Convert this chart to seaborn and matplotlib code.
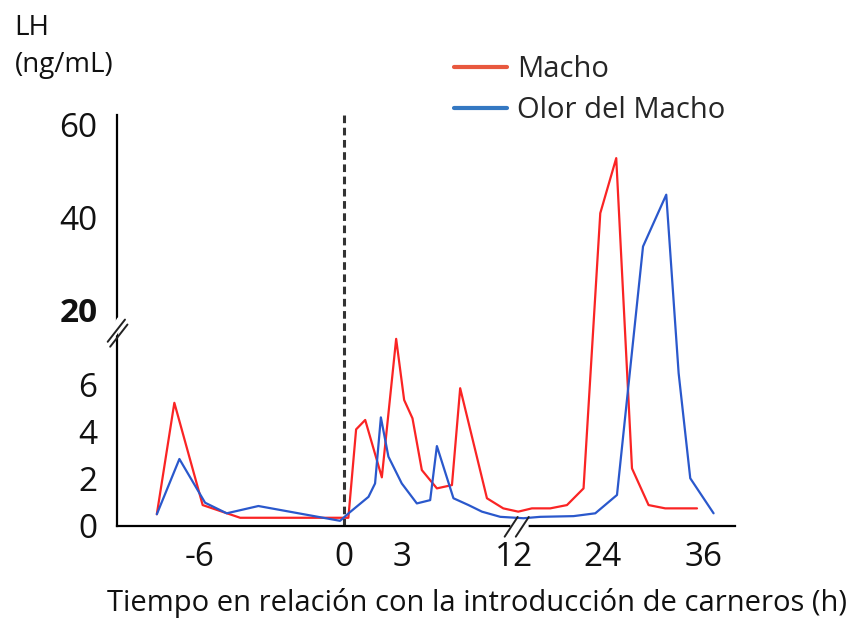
import numpy as np
import pandas as pd
import matplotlib
matplotlib.use("Agg")
import matplotlib.pyplot as plt
from matplotlib.lines import Line2D
import seaborn as sns

# data (hours relative to ram introduction, LH ng/mL)
macho_h = [-7.80, -7.07, -5.89, -4.33, 0.22, 0.62, 1.09, 1.95, 2.69, 3.16, 3.83, 4.58,
           5.79, 7.00, 7.66, 9.81, 11.12, 12.55, 14.41, 16.91, 19.19, 21.45, 23.73,
           25.66, 27.53, 29.50, 31.48, 35.25]
macho_lh = [0.50, 5.24, 0.89, 0.35, 0.35, 4.11, 4.51, 2.07, 7.96, 5.36, 4.58, 2.38,
            1.60, 1.74, 5.86, 1.18, 0.75, 0.61, 0.75, 0.75, 0.89, 1.60, 40.9,
            52.8, 2.45, 0.89, 0.75, 0.75]
olor_h = [-7.80, -6.86, -5.79, -4.89, -3.57, -0.17, 0.26, 1.26, 1.60, 1.90, 2.29, 2.98,
          4.18, 5.25, 5.79, 7.12, 8.33, 9.41, 10.88, 13.27, 15.55, 20.09, 23.05,
          25.75, 28.84, 31.60, 33.07, 34.45, 37.22]
olor_lh = [0.50, 2.85, 0.99, 0.54, 0.85, 0.22, 0.56, 1.24, 1.81, 4.62, 2.95, 1.81,
           0.96, 1.10, 3.40, 1.18, 0.89, 0.61, 0.39, 0.33, 0.39, 0.42, 0.54,
           1.32, 33.7, 44.9, 6.50, 2.03, 0.54]

x_ticks = [-6, 0, 3, 12, 24, 36]
y_ticks = [0, 2, 4, 6, 20, 40, 60]
series = ["Macho", "Olor del Macho"]

df = pd.concat([
    pd.DataFrame({"hora": macho_h, "LH": macho_lh, "grupo": series[0]}),
    pd.DataFrame({"hora": olor_h, "LH": olor_lh, "grupo": series[1]}),
])

# the original axes are drawn piecewise (broken axes), so use interpolated scales
hx = [-20, -6, 0, 3, 12, 24, 36, 50]
px = [-136, 200, 344, 402, 514, 602, 703, 820.8]
vy = [-10, 0, 8.5, 20, 60, 100]
py = [-235, 0, 199.75, 216, 401, 586]

sns.set_theme(style="white")
plt.rcParams["font.family"] = ["Open Sans", "DejaVu Sans"]

fig = plt.figure(figsize=(8.6, 6.23), dpi=100)
ax = fig.add_axes([0.136, 0.1557, 0.719, 0.66])
ax.set_xscale("function", functions=(lambda x: np.interp(x, hx, px),
                                     lambda p: np.interp(p, px, hx)))
ax.set_yscale("function", functions=(lambda v: np.interp(v, vy, py),
                                     lambda p: np.interp(p, py, vy)))

sns.lineplot(data=df, x="hora", y="LH", hue="grupo", palette=["#fa2424", "#2a58cc"],
             estimator=None, sort=False, linewidth=1.6, legend=False, ax=ax)

ax.axvline(0, color="#333333", lw=2.2, ls=(0, (2.5, 1.5)), zorder=1)

ax.set_xlim(-9.46, 39.8)
ax.set_ylim(0, 62.16)
ax.set_xticks(x_ticks)
ax.set_xticklabels([str(t) for t in x_ticks])
ax.set_yticks(y_ticks)
ax.set_yticklabels([str(t) for t in y_ticks])
for lab in ax.get_yticklabels():
    if lab.get_text() == "20":
        lab.set_fontweight("bold")
ax.tick_params(axis="both", length=0, labelsize=24, colors="#111111")
ax.tick_params(axis="x", pad=11)
ax.tick_params(axis="y", pad=14)
ax.set_xlabel("")
ax.set_ylabel("")

for side in ["top", "right"]:
    ax.spines[side].set_visible(False)
for side in ["left", "bottom"]:
    ax.spines[side].set_color("black")
    ax.spines[side].set_linewidth(1.6)

# break marks on both axes
kw = dict(transform=ax.transAxes, clip_on=False, color="#222222", lw=1.4, zorder=5)
ax.plot([-0.006, 0.006], [0.47, 0.50], transform=ax.transAxes, clip_on=False,
        color="white", lw=6, zorder=4)
ax.plot([-0.015, 0.013], [0.448, 0.502], **kw)
ax.plot([-0.011, 0.017], [0.436, 0.490], **kw)
ax.plot([0.640, 0.662], [0, 0], transform=ax.transAxes, clip_on=False,
        color="white", lw=4, zorder=4)
ax.plot([0.627, 0.648], [-0.026, 0.022], **kw)
ax.plot([0.645, 0.666], [-0.026, 0.022], **kw)

handles = [Line2D([], [], color="#e8583e", lw=3), Line2D([], [], color="#3478c2", lw=3)]
fig.legend(handles, series, loc="upper left", bbox_to_anchor=(0.511, 0.935),
           frameon=False, fontsize=21, handlelength=1.8, handletextpad=0.35,
           labelspacing=0.42, borderpad=0)

fig.text(0.017, 0.978, "LH\n(ng/mL)", fontsize=20, va="top", ha="left",
         linespacing=1.45, color="#111111")
fig.text(0.555, 0.008, "Tiempo en relación con la introducción de carneros (h)",
         fontsize=21, ha="center", va="bottom", color="#111111")

fig.savefig("out.png", dpi=100)
